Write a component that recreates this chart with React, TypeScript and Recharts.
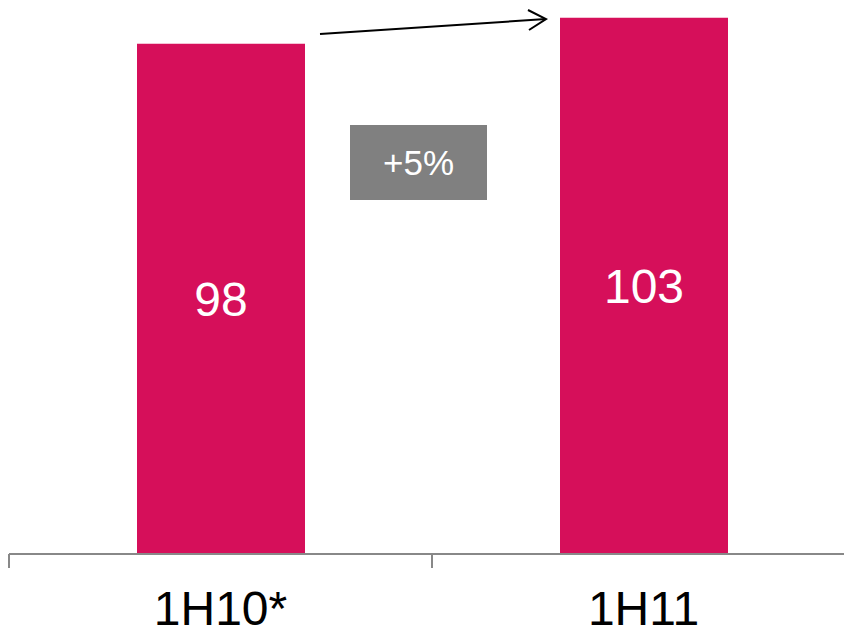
import React from 'react';
import { BarChart, Bar, XAxis, YAxis, LabelList } from 'recharts';

const categories = ['1H10*', '1H11'];
const values = [98, 103];
const changeLabel = '+5%';

const data = categories.map((name, i) => ({ name, value: values[i] }));

const FONT = '"Liberation Sans", Arial, sans-serif';
const BAND = 423;

function CategoryTick({ x, y, payload }: any) {
  const left = x - BAND / 2;
  return (
    <g>
      <line x1={left} y1={y} x2={left} y2={y + 14} stroke='#888' strokeWidth={2} />
      <text x={x} y={y + 71} textAnchor='middle' fontSize={48} fontFamily={FONT} fill='#000'>
        {payload.value}
      </text>
    </g>
  );
}

export default function App() {
  return (
    <div style={{ position: 'absolute', left: 0, top: 0, width: 844, height: 631, overflow: 'hidden', background: '#fff' }}>
      <BarChart width={860} height={631} data={data} margin={{ top: 0, right: 5, left: 9, bottom: 0 }}>
        <YAxis hide domain={[0, 106.4]} />
        <XAxis
          dataKey='name'
          height={77}
          axisLine={{ stroke: '#888', strokeWidth: 2 }}
          tickLine={false}
          tickSize={0}
          tickMargin={0}
          tick={<CategoryTick />}
          interval={0}
        />
        <Bar dataKey='value' fill='#D60F5A' barSize={168} isAnimationActive={false}>
          <LabelList dataKey='value' position='center' fill='#fff' fontSize={48} fontFamily={FONT} />
        </Bar>
      </BarChart>
      <svg width={844} height={631} style={{ position: 'absolute', left: 0, top: 0, pointerEvents: 'none' }}>
        <line x1={320} y1={34} x2={546} y2={19} stroke='#000' strokeWidth={2} />
        <polyline points='528,10 546,19 529,30' fill='none' stroke='#000' strokeWidth={2} />
      </svg>
      <div
        style={{
          position: 'absolute',
          left: 350,
          top: 125,
          width: 137,
          height: 75,
          background: '#808080',
          color: '#fff',
          fontFamily: FONT,
          fontSize: 35,
          display: 'flex',
          alignItems: 'center',
          justifyContent: 'center',
        }}
      >
        {changeLabel}
      </div>
    </div>
  );
}
